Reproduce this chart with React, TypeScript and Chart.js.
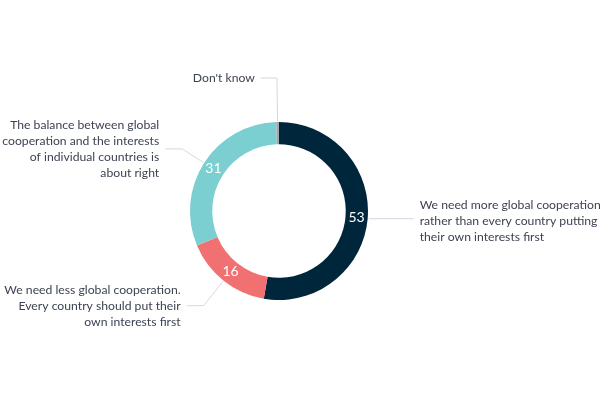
import React, { useEffect, useRef } from "react";
import { Chart, registerables } from "chart.js";

Chart.register(...registerables);

const categories = [
  "We need more global cooperation rather than every country putting their own interests first",
  "We need less global cooperation. Every country should put their own interests first",
  "The balance between global cooperation and the interests of individual countries is about right",
  "Don't know",
];
const values = [53, 16, 31, 0.5];
const valueLabels = ["53", "16", "31", ""];
const labelLines = [
  ["We need more global cooperation", "rather than every country putting", "their own interests first"],
  ["We need less global cooperation.", "Every country should put their", "own interests first"],
  ["The balance between global", "cooperation and the interests", "of individual countries is", "about right"],
  ["Don't know"],
];
const colors = ["#00263b", "#f17071", "#7bcfd1", "#a3a7ab"];

// leader geometry (layout): radial length, horizontal length (signed)
const leaders = [
  { radial: 0, horiz: 45 },
  { radial: 31, horiz: -17 },
  { radial: 25, horiz: -17 },
  { radial: 43, horiz: -16 },
];

const FONT = "Lato, 'Noto Sans', sans-serif";

const labelPlugin = {
  id: "outerLabels",
  afterDatasetsDraw(chart: any) {
    const ctx = chart.ctx;
    const meta = chart.getDatasetMeta(0);
    ctx.save();
    meta.data.forEach((arc: any, i: number) => {
      const p = arc.getProps(["x", "y", "startAngle", "endAngle", "innerRadius", "outerRadius"], true);
      const mid = (p.startAngle + p.endAngle) / 2;
      const cos = Math.cos(mid);
      const sin = Math.sin(mid);
      if (valueLabels[i]) {
        const r = (p.innerRadius + p.outerRadius) / 2;
        ctx.fillStyle = "#ffffff";
        ctx.font = `14px ${FONT}`;
        ctx.textAlign = "center";
        ctx.textBaseline = "middle";
        ctx.fillText(valueLabels[i], p.x + cos * r, p.y + sin * r);
      }
      const L = leaders[i];
      const sx = p.x + cos * (p.outerRadius + 1);
      const sy = p.y + sin * (p.outerRadius + 1);
      const ex = p.x + cos * (p.outerRadius + 1 + L.radial);
      const ey = p.y + sin * (p.outerRadius + 1 + L.radial);
      const hx = ex + L.horiz;
      ctx.strokeStyle = "#d3d7e0";
      ctx.lineWidth = 1;
      ctx.beginPath();
      ctx.moveTo(sx, sy);
      ctx.lineTo(ex, ey);
      ctx.lineTo(hx, ey);
      ctx.stroke();
      const lines = labelLines[i];
      const lh = 16;
      const right = L.horiz > 0;
      const tx = right ? hx + 6 : hx - 6;
      ctx.fillStyle = "#3d4352";
      ctx.font = `12.2px ${FONT}`;
      ctx.textAlign = right ? "left" : "right";
      ctx.textBaseline = "middle";
      const top = ey - ((lines.length - 1) * lh) / 2 + (right ? 2 : 0);
      lines.forEach((ln, k) => ctx.fillText(ln, tx, top + k * lh));
    });
    ctx.restore();
  },
};

export default function App() {
  const ref = useRef<HTMLCanvasElement | null>(null);
  useEffect(() => {
    if (!ref.current) return;
    const chart = new Chart(ref.current, {
      type: "doughnut",
      data: {
        labels: categories,
        datasets: [
          {
            data: values,
            backgroundColor: colors,
            borderWidth: 0,
            hoverBorderWidth: 0,
          },
        ],
      },
      options: {
        animation: false,
        responsive: false,
        cutout: "75%",
        layout: { padding: { left: 190, right: 232, top: 122, bottom: 100 } },
        plugins: { legend: { display: false }, tooltip: { enabled: false } },
      },
      plugins: [labelPlugin],
    });
    return () => chart.destroy();
  }, []);
  return (
    <div style={{ position: "fixed", left: 0, top: 0, width: 600, height: 400, background: "#fff" }}>
      <canvas ref={ref} width={600} height={400} style={{ width: 600, height: 400 }} />
    </div>
  );
}
